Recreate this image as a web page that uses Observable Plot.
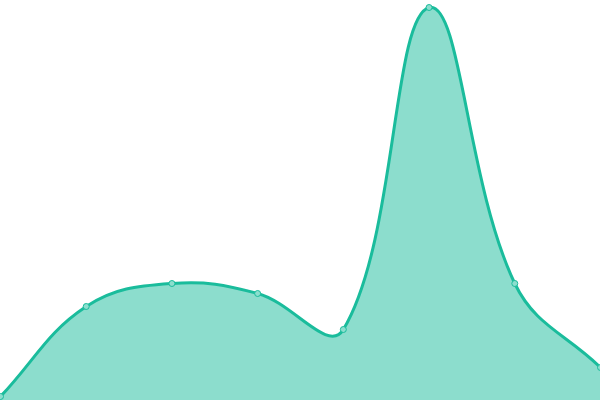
<!DOCTYPE html>
<html>
<head>
<meta charset="utf-8">
<script src="https://cdn.jsdelivr.net/npm/d3@7"></script>
<script src="https://cdn.jsdelivr.net/npm/@observablehq/plot@0.6"></script>
<style>
  html, body { margin: 0; padding: 0; background: #fff; }
  svg { display: block; }
</style>
</head>
<body>
<div id="chart"></div>
<script>
const indices = [0, 1, 2, 3, 4, 5, 6, 7];
const values = [4, 94, 117, 107, 71, 393, 117, 33];

const data = indices.map((i, k) => ({x: i, y: values[k]}));

const W = 600, H = 400, TENSION = 0.4;

// Tension spline (control points scaled by neighbour distances), caps control points to the plot area
function tensionCurve(context) {
  return {
    _line: NaN,
    _pts: [],
    areaStart() { this._line = 0; },
    areaEnd() { this._line = NaN; },
    lineStart() { this._pts = []; },
    point(x, y) { this._pts.push([+x, +y]); },
    lineEnd() {
      const p = this._pts, n = p.length;
      if (n) {
        if (this._line) context.lineTo(p[0][0], p[0][1]);
        else context.moveTo(p[0][0], p[0][1]);
        const cpPrev = [], cpNext = [];
        for (let i = 0; i < n; i++) {
          const prev = p[Math.max(0, i - 1)], cur = p[i], next = p[Math.min(n - 1, i + 1)];
          const d01 = Math.hypot(cur[0] - prev[0], cur[1] - prev[1]);
          const d12 = Math.hypot(next[0] - cur[0], next[1] - cur[1]);
          let s01 = d01 / (d01 + d12), s12 = d12 / (d01 + d12);
          if (!isFinite(s01)) s01 = 0;
          if (!isFinite(s12)) s12 = 0;
          const fa = TENSION * s01, fb = TENSION * s12;
          const dx = next[0] - prev[0], dy = next[1] - prev[1];
          const clampX = v => Math.max(0, Math.min(W, v));
          const clampY = v => Math.max(0, Math.min(H, v));
          cpPrev.push([clampX(cur[0] - fa * dx), clampY(cur[1] - fa * dy)]);
          cpNext.push([clampX(cur[0] + fb * dx), clampY(cur[1] + fb * dy)]);
        }
        for (let i = 0; i < n - 1; i++) {
          context.bezierCurveTo(cpNext[i][0], cpNext[i][1], cpPrev[i + 1][0], cpPrev[i + 1][1], p[i + 1][0], p[i + 1][1]);
        }
      }
      if (this._line || (this._line !== 0 && n === 1)) context.closePath();
      this._line = 1 - this._line;
    }
  };
}

const plot = Plot.plot({
  width: W,
  height: H,
  margin: 0,
  x: {domain: [0, 7], axis: null},
  y: {domain: [0, 400], axis: null},
  marks: [
    Plot.areaY(data, {x: "x", y: "y", curve: tensionCurve, fill: "#1abc9c", fillOpacity: 0.5}),
    Plot.lineY(data, {x: "x", y: "y", curve: tensionCurve, stroke: "#1abc9c", strokeWidth: 3}),
    Plot.dot(data, {x: "x", y: "y", r: 3, fill: "#8cdece", stroke: "#1abc9c", strokeWidth: 1})
  ]
});
document.getElementById("chart").appendChild(plot);
</script>
</body>
</html>
